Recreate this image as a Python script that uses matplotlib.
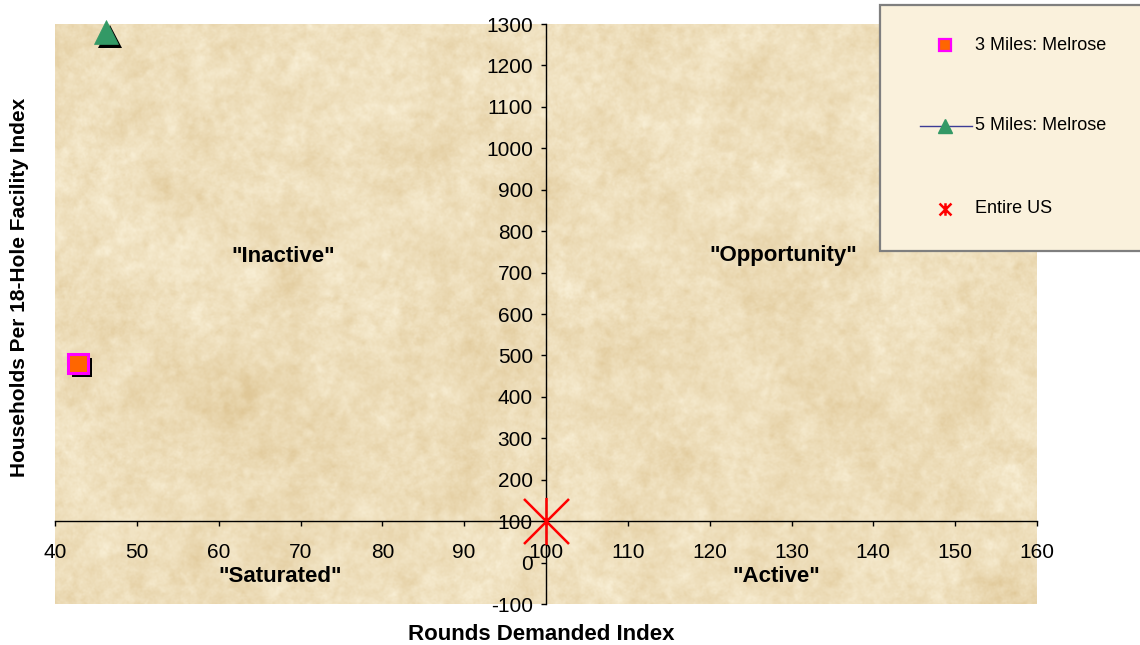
import numpy as np
import matplotlib
matplotlib.use("Agg")
import matplotlib.pyplot as plt
import matplotlib.patheffects as pe
from matplotlib.path import Path
from matplotlib.lines import Line2D
from matplotlib.patches import Rectangle

plt.rcParams['font.family'] = ['Liberation Sans', 'DejaVu Sans']

# ---- data -------------------------------------------------------------
series_names = ["3 Miles: Melrose", "5 Miles: Melrose", "Entire US"]
rounds_index = [42.8, 46.2, 100.0]       # x: Rounds Demanded Index
households_index = [481, 1280, 100]      # y: Households Per 18-Hole Facility Index

x_ticks = list(range(40, 161, 10))
y_ticks = list(range(-100, 1301, 100))

quadrant_labels = ['"Inactive"', '"Opportunity"', '"Saturated"', '"Active"']
quadrant_pos = [(67.9, 740), (129.0, 740), (67.5, -33), (128.1, -33)]

# ---- parchment texture -------------------------------------------------
def smooth_field(rng, h, w, scale):
    n = rng.standard_normal((h, w))
    fy = np.fft.fftfreq(h)[:, None]
    fx = np.fft.fftfreq(w)[None, :]
    g = np.exp(-((fx ** 2 + fy ** 2) * (2 * np.pi * scale) ** 2) / 2)
    out = np.real(np.fft.ifft2(np.fft.fft2(n) * g))
    return (out - out.mean()) / (out.std() + 1e-9)

def parchment(h, w, light, dark, seed):
    rng = np.random.default_rng(seed)
    f = (0.35 * smooth_field(rng, h, w, 30) + 0.35 * smooth_field(rng, h, w, 8)
         + 0.35 * smooth_field(rng, h, w, 2.5) + 0.2 * smooth_field(rng, h, w, 0.8))
    t = np.clip(0.42 + 0.2 * f, 0, 1)[..., None]
    light = np.array(light) / 255.0
    dark = np.array(dark) / 255.0
    return light * (1 - t) + dark * t

W_PX, H_PX = 1140, 645
fig = plt.figure(figsize=(W_PX / 100, H_PX / 100), dpi=100)

ax_left, ax_right = 55, 1037
ax_top, ax_bottom = 24, 604
ax = fig.add_axes([ax_left / W_PX, 1 - ax_bottom / H_PX,
                   (ax_right - ax_left) / W_PX, (ax_bottom - ax_top) / H_PX])

tex = parchment(584, 984, (248, 238, 212), (224, 200, 152), 11)
ax.imshow(tex, extent=[0, 1, 0, 1], transform=ax.transAxes, aspect='auto',
          zorder=0, interpolation='bilinear')

ax.set_xlim(40, 160)
ax.set_ylim(-100, 1300)

# axes cross at (100, 100)
ax.spines['left'].set_position(('data', 100))
ax.spines['bottom'].set_position(('data', 100))
ax.spines['top'].set_visible(False)
ax.spines['right'].set_visible(False)
for s in ('left', 'bottom'):
    ax.spines[s].set_linewidth(1.0)
    ax.spines[s].set_color('black')
    ax.spines[s].set_zorder(2)

ax.set_xticks(x_ticks)
ax.set_yticks(y_ticks)
ax.set_xticklabels([str(v) for v in x_ticks])
ax.set_yticklabels([str(v) for v in y_ticks])
ax.tick_params(axis='x', direction='out', length=3.5, width=1, pad=12, labelsize=15)
ax.tick_params(axis='y', direction='out', length=3.5, width=1, pad=6, labelsize=15)

shadow = [pe.SimplePatchShadow(offset=(3, -3), shadow_rgbFace='black', alpha=1.0), pe.Normal()]

# 3 Miles
ax.plot([rounds_index[0]], [households_index[0]], linestyle='none', marker='s',
        markersize=14, markerfacecolor='#FF6600', markeredgecolor='#FF00FF',
        markeredgewidth=2.2, path_effects=shadow, zorder=5, clip_on=False)
# 5 Miles
ax.plot([rounds_index[1]], [households_index[1]], linestyle='none', marker='^',
        markersize=17, markerfacecolor='#339966', markeredgecolor='#339966',
        markeredgewidth=0.5, path_effects=shadow, zorder=5, clip_on=False)

# Entire US: X with a vertical bar
star = Path([(-1, -1), (1, 1), (-1, 1), (1, -1), (0, -1.05), (0, 1.05)],
            [Path.MOVETO, Path.LINETO, Path.MOVETO, Path.LINETO, Path.MOVETO, Path.LINETO])
ax.plot([rounds_index[2]], [households_index[2]], linestyle='none', marker=star,
        markersize=34, markeredgecolor='#FF0000', markerfacecolor='none',
        markeredgewidth=1.8, zorder=5)

for lbl, (qx, qy) in zip(quadrant_labels, quadrant_pos):
    ax.text(qx, qy, lbl, ha='center', va='center', fontsize=16,
            fontweight='bold', color='black', zorder=4)

fig.text(541 / W_PX, 1 - 634 / H_PX, "Rounds Demanded Index", ha='center',
         va='center', fontsize=16, fontweight='bold')
fig.text(20 / W_PX, 1 - 287 / H_PX, "Households Per 18-Hole Facility Index",
         ha='center', va='center', rotation=90, fontsize=15, fontweight='bold')

# ---- legend box ------------------------------------------------------------
lx0, ly0, lx1, ly1 = 880, 5, 1150, 251
fig.patches.append(Rectangle((lx0 / W_PX, 1 - ly1 / H_PX), (lx1 - lx0) / W_PX,
                             (ly1 - ly0) / H_PX, transform=fig.transFigure,
                             facecolor='#FAF1DC', edgecolor='#7F7F7F', linewidth=1.6,
                             zorder=1))

mx, tx = 945, 975
rows = [45, 126, 209]

def fx(p):
    return p / W_PX

def fy(p):
    return 1 - p / H_PX

fig.add_artist(Line2D([fx(mx)], [fy(rows[0])], transform=fig.transFigure,
                      linestyle='none', marker='s', markersize=8,
                      markerfacecolor='#FF6600', markeredgecolor='#FF00FF',
                      markeredgewidth=1.6, zorder=3))
fig.add_artist(Line2D([fx(920), fx(972)], [fy(rows[1]), fy(rows[1])],
                      transform=fig.transFigure, color='#3C3C96', linewidth=1.0, zorder=3))
fig.add_artist(Line2D([fx(mx)], [fy(rows[1])], transform=fig.transFigure,
                      linestyle='none', marker='^', markersize=10,
                      markerfacecolor='#339966', markeredgecolor='#339966', zorder=3))
fig.add_artist(Line2D([fx(mx)], [fy(rows[2])], transform=fig.transFigure,
                      linestyle='none', marker=star, markersize=9,
                      markeredgecolor='#FF0000', markeredgewidth=1.8, zorder=3))
for name, r in zip(series_names, rows):
    fig.text(fx(tx), fy(r), name, ha='left', va='center', fontsize=13, zorder=4)

fig.savefig("out.png", dpi=100)
